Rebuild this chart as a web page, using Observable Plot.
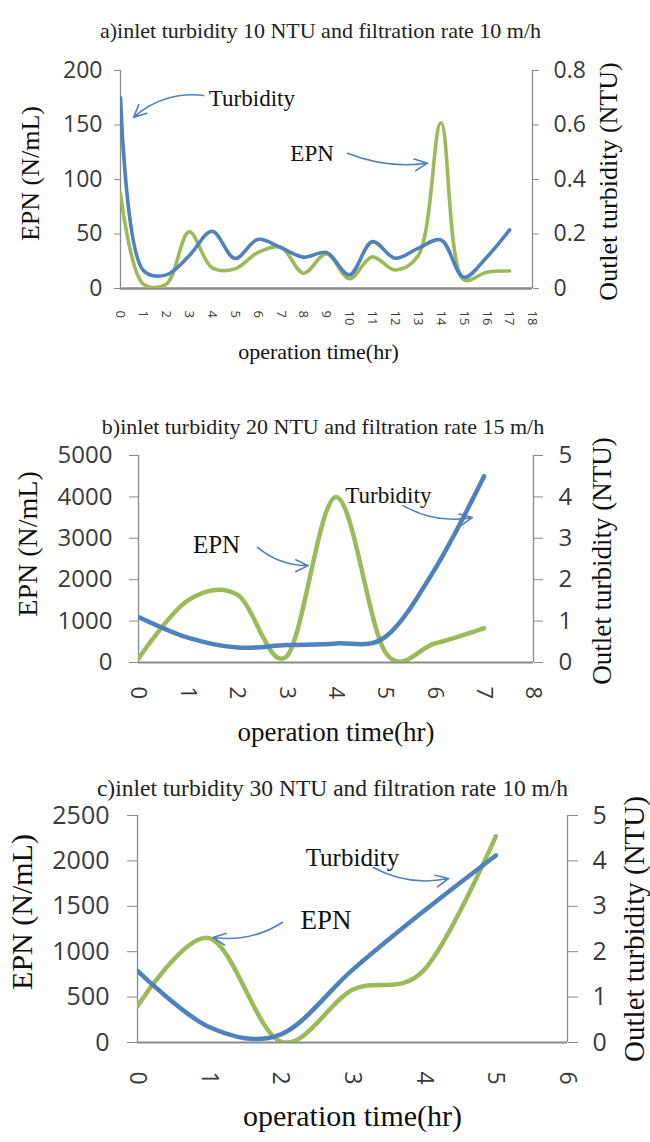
<!DOCTYPE html>
<html><head><meta charset="utf-8">
<script src="https://cdn.jsdelivr.net/npm/d3@7"></script>
<script src="https://cdn.jsdelivr.net/npm/@observablehq/plot@0.6"></script>
<style>
body{margin:0;background:#fff;width:650px;}
#chart svg{display:block;}
</style></head><body><div id="chart"></div>
<script>
// ---------- Panel a ----------
const titleA = "a)inlet turbidity 10 NTU and filtration rate 10 m/h";
const hoursA = [0,1,2,3,4,5,6,7,8,9,10,11,12,13,14,15,16,17];
const epnA  = [87,4,4,52,19,18,33,38,14,32,9,29,17,30,152,8,15,16];
const turbA = [0.70,0.066,0.05,0.12,0.21,0.11,0.18,0.15,0.115,0.132,0.05,0.172,0.111,0.147,0.178,0.041,0.115,0.215];
const xTicksA = [0,1,2,3,4,5,6,7,8,9,10,11,12,13,14,15,16,17,18];
const yTicksA = [0,50,100,150,200];
const rightTicksA = [0,0.2,0.4,0.6,0.8];
const annTextA = ["Turbidity","EPN"];
const annXA = [5.74, 8.37];
const annYA = [174, 124];
const arrX1A = [3.63, 9.92], arrY1A = [177, 124], arrX2A = [0.57, 13.41], arrY2A = [157, 115];

// ---------- Panel b ----------
const titleB = "b)inlet turbidity 20 NTU and filtration rate 15 m/h";
const hoursB = [0,1,2,3,4,5,6,7];
const epnB  = [100,1500,1640,150,4000,250,460,830];
const turbB = [1.10,0.60,0.36,0.42,0.46,0.62,2.25,4.5];
const xTicksB = [0,1,2,3,4,5,6,7,8];
const yTicksB = [0,1000,2000,3000,4000,5000];
const rightTicksB = [0,1,2,3,4,5];
const annTextB = ["Turbidity","EPN"];
const annXB = [5.06, 1.58];
const annYB = [4030, 2830];
const arrX1B = [5.36, 2.41], arrY1B = [3790, 2780], arrX2B = [6.76, 3.44], arrY2B = [3500, 2340];

// ---------- Panel c ----------
const titleC = "c)inlet turbidity 30 NTU and filtration rate 10 m/h";
const hoursC = [0,1,2,3,4,5];
const epnC  = [400,1150,10,580,800,2270];
const turbC = [1.58,0.34,0.18,1.6,2.9,4.12];
const xTicksC = [0,1,2,3,4,5,6];
const yTicksC = [0,500,1000,1500,2000,2500];
const rightTicksC = [0,1,2,3,4,5];
const annTextC = ["Turbidity","EPN"];
const annXC = [3.0, 2.63];
const annYC = [2030, 1340];
const arrX1C = [3.29, 2.02], arrY1C = [1927, 1322], arrX2C = [4.34, 1.05], arrY2C = [1806, 1156];

const GREEN = "#9BBB59", BLUE = "#4F81BD", AXIS = "#8a8a8a", INK = "#3a3a3a";
const SERIF = "Liberation Serif, 'Times New Roman', serif";
const SANS = "'Open Sans', sans-serif";

function panel(p) {
  const f = p.factor;
  const rows = p.hours.map((h, i) => ({h, epn: p.epn[i], turb: p.turb[i]}));
  const xmin = p.xTicks[0], xmax = p.xTicks[p.xTicks.length - 1];
  const arrows = p.arrX1.map((_, i) => Plot.arrow([i], {
    x1: () => p.arrX1[i], y1: () => p.arrY1[i], x2: () => p.arrX2[i], y2: () => p.arrY2[i],
    bend: p.bends[i], stroke: BLUE, strokeWidth: 1.6, headLength: 13, headAngle: 50
  }));
  return Plot.plot({
    width: 650, height: p.height,
    marginTop: p.mt, marginBottom: p.mb, marginLeft: p.ml, marginRight: p.mr,
    x: {domain: [xmin, xmax]},
    y: {domain: [p.yTicks[0], p.yTicks[p.yTicks.length - 1]]},
    style: {background: "white", fontFamily: SANS, color: INK, overflow: "visible"},
    marks: [
      Plot.ruleX([xmin, xmax], {stroke: AXIS, strokeWidth: 1.3}),
      Plot.ruleY([0], {stroke: AXIS, strokeWidth: p.xAxisWidth}),
      Plot.axisY({anchor: "left", ticks: p.yTicks, tickSize: p.tickSize, tickPadding: p.ltp,
        fontSize: p.tickFont, fontFamily: SANS, stroke: AXIS, fill: INK, label: null, tickFormat: d => String(d)}),
      Plot.axisY({anchor: "right", ticks: p.rightTicks.map(v => v * f), tickSize: p.tickSize, tickPadding: p.rtp,
        fontSize: p.tickFont, fontFamily: SANS, stroke: AXIS, fill: INK, label: null,
        tickFormat: d => String(+(d / f).toFixed(2))}),
      Plot.axisX({ticks: p.xTicks, tickRotate: 90, tickSize: 0, tickPadding: p.xtp,
        fontSize: p.xTickFont, fontFamily: SANS, fill: INK, label: null, tickFormat: d => String(d)}),
      Plot.line(rows, {x: "h", y: "epn", stroke: GREEN, strokeWidth: p.lw, curve: p.curve, clip: true}),
      Plot.line(rows, {x: "h", y: d => d.turb * f, stroke: BLUE, strokeWidth: p.lw, curve: p.curve, clip: true}),
      ...arrows,
      Plot.text(p.annText, {x: p.annX, y: p.annY, text: d => d, fontFamily: SERIF,
        fontSize: (d, i) => p.annFont[i], fill: "#111"}),
      Plot.text([p.title], {frameAnchor: "top", text: d => d, dy: p.titleDy, dx: p.titleDx,
        fontFamily: SERIF, fontSize: p.titleFont, fill: "#222", textAnchor: "middle"}),
      Plot.text(["EPN (N/mL)"], {frameAnchor: "left", text: d => d, rotate: -90, dx: p.ylDx, dy: p.ylDy,
        fontFamily: SERIF, fontSize: p.ylFont, fill: "#111", textAnchor: "middle"}),
      Plot.text(["Outlet turbidity (NTU)"], {frameAnchor: "right", text: d => d, rotate: -90, dx: p.yrDx, dy: p.yrDy,
        fontFamily: SERIF, fontSize: p.yrFont, fill: "#111", textAnchor: "middle"}),
      Plot.text(["operation time(hr)"], {frameAnchor: "bottom", text: d => d, dy: p.xlDy, dx: p.xlDx,
        fontFamily: SERIF, fontSize: p.xLabelFont, fill: "#111", textAnchor: "middle"})
    ]
  });
}

const chart = document.getElementById("chart");
chart.append(panel({
  title: titleA, hours: hoursA, epn: epnA, turb: turbA, factor: 250, curve: "catmull-rom",
  xTicks: xTicksA, yTicks: yTicksA, rightTicks: rightTicksA,
  annText: annTextA, annX: annXA, annY: annYA,
  arrX1: arrX1A, arrY1: arrY1A, arrX2: arrX2A, arrY2: arrY2A, bends: [-25, -15],
  height: 380, mt: 70, mb: 92, ml: 120, mr: 118,
  xAxisWidth: 2.5, tickSize: 6, ltp: 12, rtp: 15, tickFont: 23, xTickFont: 13, xtp: 22,
  lw: 3.6, annFont: [23, 23], titleFont: 22, titleDy: -48, titleDx: -6,
  ylFont: 26, yrFont: 26, ylDx: -90, ylDy: -6, yrDx: 76, yrDy: 2, xlDy: 70, xlDx: -8, xLabelFont: 22
}));
chart.append(panel({
  title: titleB, hours: hoursB, epn: epnB, turb: turbB, factor: 1000, curve: "cardinal",
  xTicks: xTicksB, yTicks: yTicksB, rightTicks: rightTicksB,
  annText: annTextB, annX: annXB, annY: annYB,
  arrX1: arrX1B, arrY1: arrY1B, arrX2: arrX2B, arrY2: arrY2B, bends: [-20, -20],
  height: 380, mt: 75, mb: 98, ml: 138, mr: 117,
  xAxisWidth: 2, tickSize: 9, ltp: 17, rtp: 16, tickFont: 24, xTickFont: 22, xtp: 24,
  lw: 4.5, annFont: [23, 25], titleFont: 22, titleDy: -37, titleDx: -13,
  ylFont: 28, yrFont: 27, ylDx: -110, ylDy: -15, yrDx: 69, yrDy: 2, xlDy: 78, xlDx: 0, xLabelFont: 27
}));
chart.append(panel({
  title: titleC, hours: hoursC, epn: epnC, turb: turbC, factor: 500, curve: "cardinal",
  xTicks: xTicksC, yTicks: yTicksC, rightTicks: rightTicksC,
  annText: annTextC, annX: annXC, annY: annYC,
  arrX1: arrX1C, arrY1: arrY1C, arrX2: arrX2C, arrY2: arrY2C, bends: [-20, 20],
  height: 382, mt: 55, mb: 100, ml: 137, mr: 83,
  xAxisWidth: 2, tickSize: 10, ltp: 18, rtp: 15, tickFont: 25, xTickFont: 23, xtp: 29,
  lw: 4.5, annFont: [25, 27], titleFont: 23.5, titleDy: -36, titleDx: -20,
  ylFont: 30, yrFont: 29, ylDx: -115, ylDy: -17, yrDx: 67, yrDy: 0, xlDy: 83, xlDx: 0, xLabelFont: 30
}));
</script></body></html>
